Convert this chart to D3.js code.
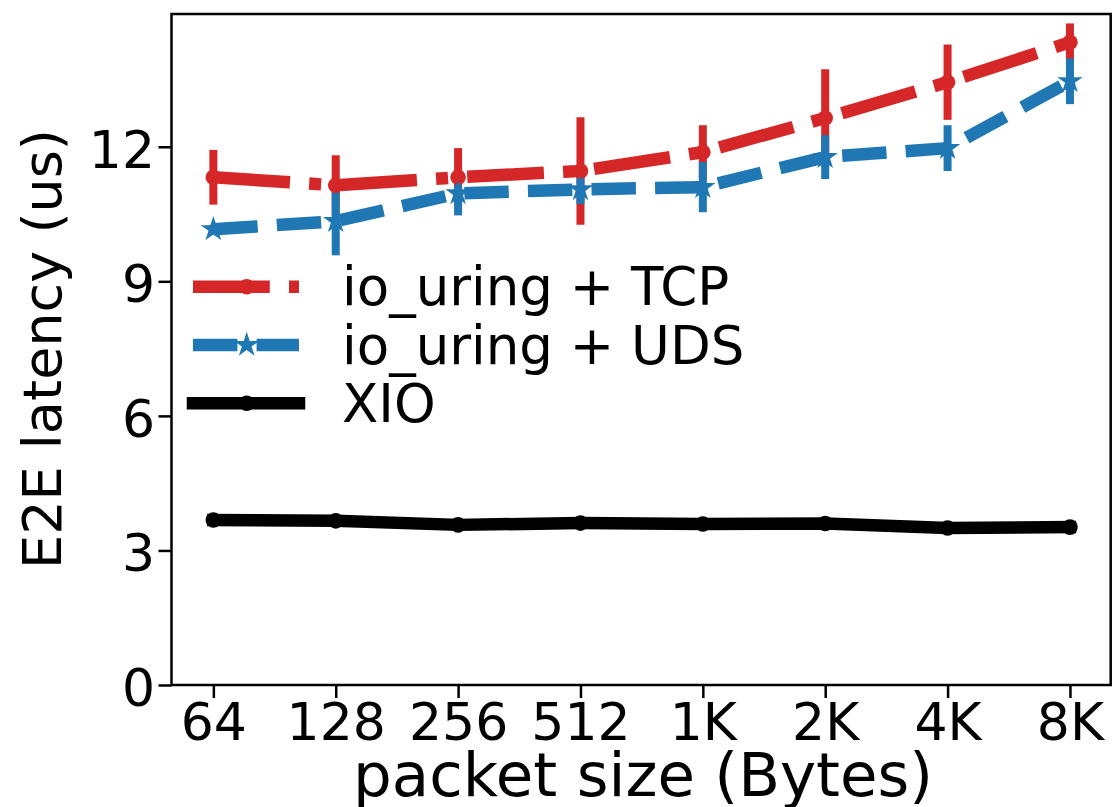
<!DOCTYPE html>
<html>
<head>
<meta charset="utf-8">
<script src="https://cdn.jsdelivr.net/npm/d3@7"></script>
<style>
  body { margin: 0; background: #fff; }
  text { font-family: "DejaVu Sans", sans-serif; fill: #000; }
</style>
</head>
<body>
<svg id="chart" width="1112" height="807"></svg>
<script>
// packet sizes on the x axis
var sizes = ["64", "128", "256", "512", "1K", "2K", "4K", "8K"];
var yTicks = [0, 3, 6, 9, 12];

// mean E2E latency (us) and error (+/-)
var tcpMean = [11.32, 11.14, 11.32, 11.46, 11.88, 12.64, 13.44, 14.33];
var tcpErr  = [0.61, 0.67, 0.65, 1.2, 0.6, 1.09, 0.84, 0.42];
var udsMean = [10.16, 10.34, 10.96, 11.05, 11.10, 11.77, 11.97, 13.46];
var udsErr  = [0.1, 0.76, 0.49, 0.33, 0.56, 0.49, 0.51, 0.51];
var xioMean = [3.68, 3.66, 3.57, 3.61, 3.59, 3.60, 3.50, 3.52];
var xioErr  = [0, 0, 0, 0, 0, 0, 0, 0];

var series = [
  {name: "io_uring + TCP", mean: tcpMean, err: tcpErr, color: "#d62728", dash: "76.8,19.2,12,19.2", marker: "circle", cap: "butt"},
  {name: "io_uring + UDS", mean: udsMean, err: udsErr, color: "#1f77b4", dash: "44.4,19.2", marker: "star", cap: "butt"},
  {name: "XIO", mean: xioMean, err: xioErr, color: "#000000", dash: null, marker: "circle", cap: "square"}
];

function drawChart() {
  var svg = d3.select("#chart");
  var margin = {left: 171.5, right: 1110.7, top: 14, bottom: 685};

  var x = d3.scaleLinear().domain([-0.342, 7.333]).range([margin.left, margin.right]);
  var y = d3.scaleLinear().domain([0, 14.96]).range([margin.bottom, margin.top]);

  var star = d3.symbol().type(d3.symbolStar).size(200);

  function drawMarker(g, s, cx, cy) {
    if (s.marker == "circle") {
      g.append("circle").attr("cx", cx).attr("cy", cy).attr("r", 7.8).attr("fill", s.color);
    } else {
      g.append("path").attr("d", star).attr("transform", "translate(" + cx + "," + cy + ")").attr("fill", s.color);
    }
  }

  var plot = svg.append("g");

  // error bars first (they sit under all the data lines)
  series.forEach(function(s) {
    s.mean.forEach(function(m, i) {
      if (s.err[i] <= 0) return;
      plot.append("line")
        .attr("x1", x(i)).attr("x2", x(i))
        .attr("y1", y(m - s.err[i])).attr("y2", y(m + s.err[i]))
        .attr("stroke", s.color).attr("stroke-width", 8);
    });
  });

  // lines and markers
  series.forEach(function(s) {
    var line = d3.line().x(function(d, i) { return x(i); }).y(function(d) { return y(d); });
    plot.append("path")
      .attr("d", line(s.mean))
      .attr("fill", "none")
      .attr("stroke", s.color)
      .attr("stroke-width", 12.5)
      .attr("stroke-linejoin", "round")
      .attr("stroke-linecap", s.cap)
      .attr("stroke-dasharray", s.dash);
    s.mean.forEach(function(m, i) { drawMarker(plot, s, x(i), y(m)); });
  });

  // axes
  var yAxis = svg.append("g")
    .attr("transform", "translate(" + margin.left + ",0)")
    .call(d3.axisLeft(y).tickValues(yTicks).tickSize(13).tickPadding(3.5));
  var xAxis = svg.append("g")
    .attr("transform", "translate(0," + margin.bottom + ")")
    .call(d3.axisBottom(x).tickValues(d3.range(sizes.length)).tickFormat(function(d) { return sizes[d]; }).tickSize(13).tickPadding(5));

  [xAxis, yAxis].forEach(function(a) {
    a.select(".domain").remove();
    a.selectAll(".tick line").attr("stroke", "#000").attr("stroke-width", 2.5);
    a.selectAll(".tick text").attr("font-size", "52px").attr("font-family", "DejaVu Sans").attr("fill", "#000");
  });
  yAxis.selectAll(".tick text").attr("dy", 20.5);
  xAxis.selectAll(".tick text").attr("dy", "0.71em");

  // frame
  svg.append("rect")
    .attr("x", margin.left).attr("y", margin.top)
    .attr("width", margin.right - margin.left).attr("height", margin.bottom - margin.top)
    .attr("fill", "none").attr("stroke", "#000").attr("stroke-width", 2.5);

  // axis labels
  svg.append("text")
    .attr("x", (margin.left + margin.right) / 2 + 2).attr("y", 796)
    .attr("text-anchor", "middle").attr("font-size", "61px")
    .text("packet size (Bytes)");
  svg.append("text")
    .attr("transform", "translate(61,349) rotate(-90)")
    .attr("text-anchor", "middle").attr("font-size", "54px")
    .text("E2E latency (us)");

  // legend
  var legendY = [286.7, 345, 403.3];
  series.forEach(function(s, i) {
    var lg = svg.append("g");
    lg.append("line")
      .attr("x1", 193).attr("x2", 299)
      .attr("y1", legendY[i]).attr("y2", legendY[i])
      .attr("stroke", s.color).attr("stroke-width", 12.5)
      .attr("stroke-linecap", s.cap)
      .attr("stroke-dasharray", s.dash);
    drawMarker(lg, s, 246.7, legendY[i]);
    lg.append("text")
      .attr("x", 342).attr("y", legendY[i] + 18.5)
      .attr("font-size", "53px")
      .text(s.name);
  });
}

drawChart();
</script>
</body>
</html>
